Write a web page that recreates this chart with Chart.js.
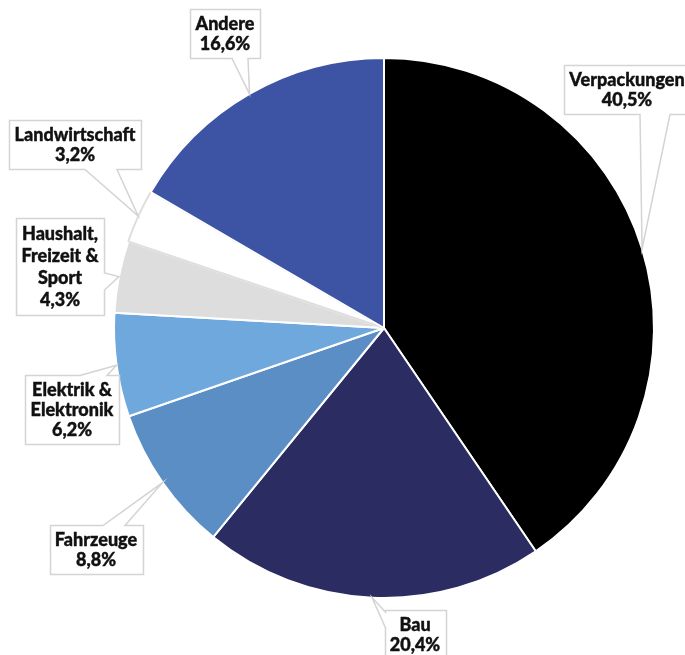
<!DOCTYPE html>
<html>
<head>
<meta charset="utf-8">
<script src="https://cdn.jsdelivr.net/npm/chart.js@4.4.1/dist/chart.umd.min.js"></script>
<style>
    html, body { margin: 0; padding: 0; background: #fff; }
    #pieChart { display: block; }
</style>
</head>
<body>
<canvas id="pieChart" width="685" height="655"></canvas>
<script>
const categories = [
    ['Verpackungen'],
    ['Bau'],
    ['Fahrzeuge'],
    ['Elektrik &', 'Elektronik'],
    ['Haushalt,', 'Freizeit &', 'Sport'],
    ['Landwirtschaft'],
    ['Andere']
];
const shares = [40.5, 20.4, 8.8, 6.2, 4.3, 3.2, 16.6];
const sliceColors = ['#000000', '#2a2c62', '#5b8ec4', '#6fa8dc', '#dddddd', '#ffffff', '#3d53a4'];
const sliceBorders = ['#ffffff', '#ffffff', '#ffffff', '#ffffff', '#ffffff', '#dedede', '#ffffff'];

// callout boxes: centre x, top y, side the pointer leaves from, pointer base span
const callouts = [
    { cx: 627, top: 65, side: 'bottom', base: [640, 670] },
    { cx: 415, top: 610, side: 'left', base: [612, 628] },
    { cx: 96, top: 525, side: 'top', base: [103, 125] },
    { cx: 72, top: 375, side: 'top', base: [80, 107] },
    { cx: 60, top: 218, side: 'right', base: [273, 290], lineHeight: 22 },
    { cx: 75, top: 120, side: 'bottom', base: [85, 117] },
    { cx: 225, top: 9, side: 'bottom', base: [232, 248] }
];

function formatShare(v) {
    return v.toFixed(1).replace('.', ',') + '%';
}

function calloutPath(ctx, bx, by, bw, bh, side, a, b, tx, ty) {
    ctx.beginPath();
    ctx.moveTo(bx, by);
    if (side === 'top') { ctx.lineTo(a, by); ctx.lineTo(tx, ty); ctx.lineTo(b, by); }
    ctx.lineTo(bx + bw, by);
    if (side === 'right') { ctx.lineTo(bx + bw, a); ctx.lineTo(tx, ty); ctx.lineTo(bx + bw, b); }
    ctx.lineTo(bx + bw, by + bh);
    if (side === 'bottom') { ctx.lineTo(b, by + bh); ctx.lineTo(tx, ty); ctx.lineTo(a, by + bh); }
    ctx.lineTo(bx, by + bh);
    if (side === 'left') { ctx.lineTo(bx, b); ctx.lineTo(tx, ty); ctx.lineTo(bx, a); }
    ctx.closePath();
}

const calloutPlugin = {
    id: 'callouts',
    afterDatasetsDraw(chart) {
        const ctx = chart.ctx;
        const meta = chart.getDatasetMeta(0);
        ctx.save();
        ctx.font = "900 18px Lato, 'Noto Sans', sans-serif";
        ctx.textAlign = 'center';
        ctx.textBaseline = 'middle';
        meta.data.forEach((arc, i) => {
            const p = arc.getProps(['x', 'y', 'startAngle', 'endAngle', 'outerRadius'], true);
            const mid = (p.startAngle + p.endAngle) / 2;
            const tx = p.x + Math.cos(mid) * p.outerRadius;
            const ty = p.y + Math.sin(mid) * p.outerRadius;
            const c = callouts[i];
            const lines = categories[i].concat([formatShare(shares[i])]);
            const lh = c.lineHeight || 20;
            const textW = Math.max(...lines.map(l => ctx.measureText(l).width));
            const bw = Math.round(textW + 11);
            const bh = lines.length * lh + 9;
            const bx = Math.round(c.cx - bw / 2) + 0.5;
            const by = c.top + 0.5;
            calloutPath(ctx, bx, by, bw, bh, c.side, c.base[0], c.base[1], tx, ty);
            ctx.fillStyle = '#ffffff';
            ctx.fill();
            ctx.strokeStyle = '#d4d4d4';
            ctx.lineWidth = 1.5;
            ctx.stroke();
            ctx.fillStyle = '#111111';
            ctx.strokeStyle = '#111111';
            ctx.lineWidth = 0.4;
            lines.forEach((l, k) => {
                const ly = by + 5 + lh / 2 + k * lh;
                ctx.fillText(l, c.cx, ly);
                ctx.strokeText(l, c.cx, ly);
            });
        });
        ctx.restore();
    }
};

document.addEventListener('DOMContentLoaded', () => {
    new Chart(document.getElementById('pieChart'), {
        type: 'pie',
        data: {
            labels: categories.map(c => c.join(' ')),
            datasets: [{
                data: shares,
                backgroundColor: sliceColors,
                borderColor: sliceBorders,
                borderWidth: 2
            }]
        },
        options: {
            responsive: false,
            animation: false,
            layout: { padding: { left: 113, right: 30, top: 57, bottom: 56 } },
            plugins: {
                legend: { display: false },
                tooltip: { enabled: false }
            }
        },
        plugins: [calloutPlugin]
    });
});
</script>
</body>
</html>
